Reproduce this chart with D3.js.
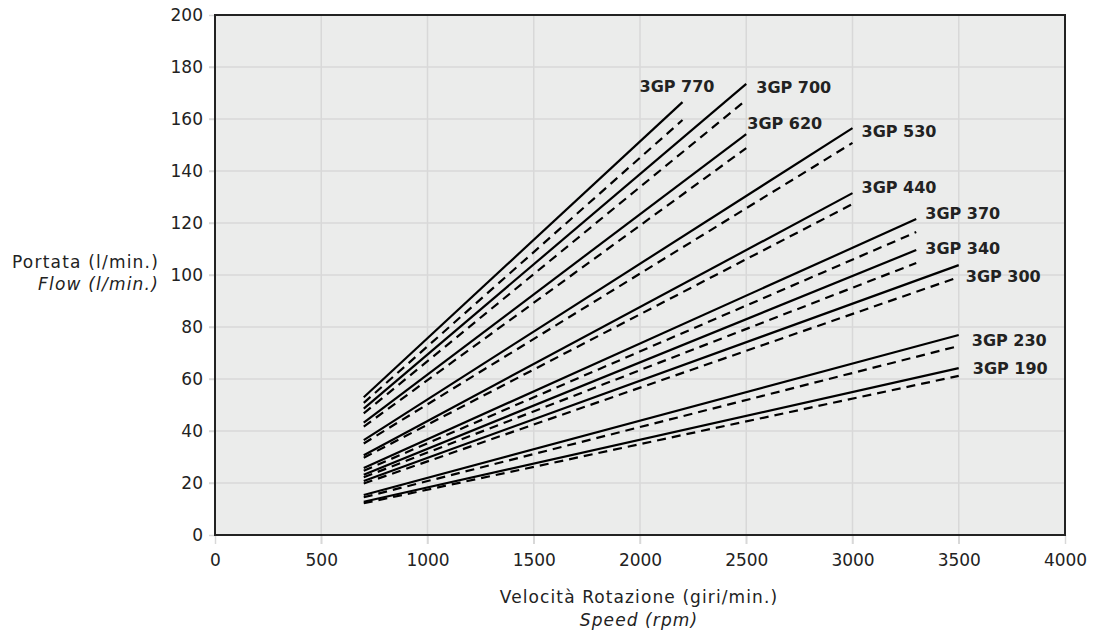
<!DOCTYPE html>
<html>
<head>
<meta charset="utf-8">
<script src="https://cdn.jsdelivr.net/npm/d3@7/dist/d3.min.js"></script>
<style>
  html, body { margin: 0; padding: 0; background: #ffffff; }
  svg { display: block; font-family: "DejaVu Sans", Verdana, sans-serif; }
</style>
</head>
<body>
<svg id="chart" width="1098" height="633"></svg>
<script>
// ---- data ----
const models      = ["3GP 770", "3GP 700", "3GP 620", "3GP 530", "3GP 440", "3GP 370", "3GP 340", "3GP 300", "3GP 230", "3GP 190"];
const startRpm    = [700, 700, 700, 700, 700, 700, 700, 700, 700, 700];
const endRpm      = [2200, 2500, 2500, 3000, 3000, 3300, 3300, 3500, 3500, 3500];
const solidStart  = [53.0, 48.6, 43.2, 36.5, 30.7, 25.8, 23.2, 20.8, 15.4, 12.8];
const solidEnd    = [166.5, 173.5, 154.2, 156.5, 131.5, 121.5, 109.6, 103.8, 76.9, 64.2];
const dashedStart = [50.8, 46.8, 41.7, 35.2, 29.7, 24.7, 22.2, 19.8, 14.5, 12.2];
const dashedEnd   = [159.6, 167.3, 148.8, 150.8, 127.3, 116.5, 104.6, 99.2, 72.7, 61.2];
const xTicks = [0, 500, 1000, 1500, 2000, 2500, 3000, 3500, 4000];
const yTicks = [0, 20, 40, 60, 80, 100, 120, 140, 160, 180, 200];
const yTitle = ["Portata (l/min.)", "Flow (l/min.)"];
const xTitle = ["Velocità Rotazione (giri/min.)", "Speed (rpm)"];

// label placement offsets (pixels) relative to end of solid line
const labelDx = [-43, 10, 1, 9, 9, 9, 9, 7, 13, 14];
const labelDy = [-16, 3, -11, 3, -6, -6, -2, 11, 5, 0];

// ---- layout ----
const svg = d3.select("#chart");
const pLeft = 215, pRight = 1065, pTop = 15, pBottom = 535;
const x = d3.scaleLinear().domain([0, 4000]).range([pLeft, pRight]);
const y = d3.scaleLinear().domain([0, 200]).range([pBottom, pTop]);
const fontFam = "DejaVu Sans, Verdana, sans-serif";

// background
svg.append("rect").attr("x", pLeft).attr("y", pTop)
  .attr("width", pRight - pLeft).attr("height", pBottom - pTop)
  .attr("fill", "#ebeceb");

// gridlines
const grid = svg.append("g");
grid.selectAll(".vg").data(xTicks.slice(1, -1)).join("line")
  .attr("x1", d => x(d)).attr("x2", d => x(d))
  .attr("y1", pTop).attr("y2", pBottom + 9)
  .attr("stroke", "#d8d8d8").attr("stroke-width", 1.5);
grid.selectAll(".hg").data(yTicks.slice(1, -1)).join("line")
  .attr("x1", pLeft - 6).attr("x2", pRight)
  .attr("y1", d => y(d)).attr("y2", d => y(d))
  .attr("stroke", "#d8d8d8").attr("stroke-width", 1.5);

// axes (tick labels)
const xAxis = d3.axisBottom(x).tickValues(xTicks).tickSize(9).tickPadding(10).tickFormat(d3.format("d"));
const gx = svg.append("g").attr("transform", `translate(0,${pBottom})`).call(xAxis);
gx.select(".domain").remove();
gx.selectAll(".tick line").attr("stroke", "#d8d8d8").attr("stroke-width", 1.5);
gx.selectAll(".tick text").attr("font-size", 17).attr("fill", "#222").attr("font-family", fontFam);

const yAxis = d3.axisLeft(y).tickValues(yTicks).tickSize(6).tickPadding(6);
const gy = svg.append("g").attr("transform", `translate(${pLeft},0)`).call(yAxis);
gy.select(".domain").remove();
gy.selectAll(".tick line").attr("stroke", "#d8d8d8").attr("stroke-width", 1.5);
gy.selectAll(".tick text").attr("font-size", 17).attr("fill", "#222").attr("font-family", fontFam);

// lines
const plot = svg.append("g");
models.forEach((m, i) => {
  plot.append("line")
    .attr("x1", x(startRpm[i])).attr("y1", y(dashedStart[i]))
    .attr("x2", x(endRpm[i])).attr("y2", y(dashedEnd[i]))
    .attr("stroke", "#000").attr("stroke-width", 2.2)
    .attr("stroke-dasharray", "9,6");
  plot.append("line")
    .attr("x1", x(startRpm[i])).attr("y1", y(solidStart[i]))
    .attr("x2", x(endRpm[i])).attr("y2", y(solidEnd[i]))
    .attr("stroke", "#000").attr("stroke-width", 2.2);
  plot.append("text")
    .attr("x", x(endRpm[i]) + labelDx[i])
    .attr("y", y(solidEnd[i]) + labelDy[i])
    .attr("dy", "0.35em")
    .attr("font-size", 16).attr("font-weight", "bold").attr("fill", "#222")
    .text(m);
});

// frame
svg.append("rect").attr("x", pLeft).attr("y", pTop)
  .attr("width", pRight - pLeft).attr("height", pBottom - pTop)
  .attr("fill", "none").attr("stroke", "#222").attr("stroke-width", 2);

// y title
svg.append("text").attr("x", 159).attr("y", 262).attr("dy", "0.35em")
  .attr("text-anchor", "end").attr("font-size", 17).attr("letter-spacing", 1.2)
  .attr("fill", "#222").text(yTitle[0]);
svg.append("text").attr("x", 159).attr("y", 284).attr("dy", "0.35em")
  .attr("text-anchor", "end").attr("font-size", 17).attr("letter-spacing", 1.2)
  .attr("font-style", "italic").attr("fill", "#222").text(yTitle[1]);

// x title
svg.append("text").attr("x", 639).attr("y", 597).attr("dy", "0.35em")
  .attr("text-anchor", "middle").attr("font-size", 17).attr("letter-spacing", 1.1)
  .attr("fill", "#222").text(xTitle[0]);
svg.append("text").attr("x", 639).attr("y", 620).attr("dy", "0.35em")
  .attr("text-anchor", "middle").attr("font-size", 17).attr("letter-spacing", 1.1)
  .attr("font-style", "italic").attr("fill", "#222").text(xTitle[1]);
</script>
</body>
</html>
